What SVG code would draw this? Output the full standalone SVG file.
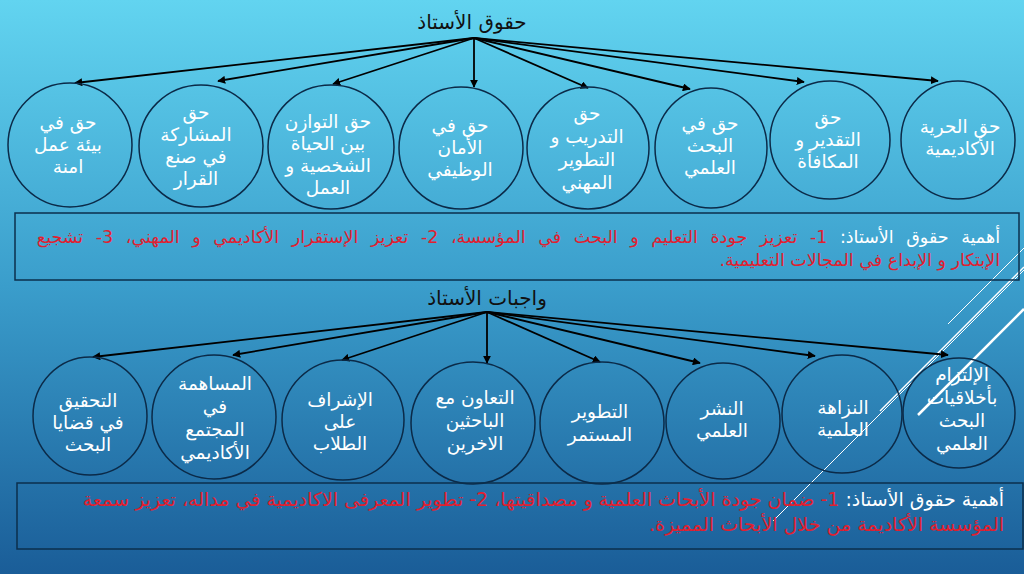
<svg xmlns="http://www.w3.org/2000/svg" width="1024" height="574" viewBox="0 0 1024 574">
<defs>
<linearGradient id="bg" x1="0" y1="0" x2="0" y2="1">
<stop offset="0" stop-color="#62d4f0"/>
<stop offset="0.5" stop-color="#3a9dcb"/>
<stop offset="1" stop-color="#1a5d98"/>
</linearGradient>
<marker id="ah" viewBox="0 0 10 10" refX="9" refY="5" markerWidth="8" markerHeight="8" markerUnits="userSpaceOnUse" orient="auto">
<path d="M0,0 L10,5 L0,10 z" fill="#000"/>
</marker>
<style>
.c{fill:none;stroke:#0b2a48;stroke-width:1.5}
.t{font-family:"DejaVu Sans","Noto Sans",sans-serif;font-size:18.5px;fill:#fff;text-anchor:middle}
.h{font-family:"DejaVu Sans","Noto Sans",sans-serif;font-size:20px;fill:#111;text-anchor:middle}
.b{font-family:"DejaVu Sans","Noto Sans",sans-serif;font-size:17.5px;fill:#e02030;direction:rtl;text-anchor:start}
.b2{font-size:19px}
.w{fill:#fff}
.box{fill:none;stroke:#0b2f4c;stroke-width:1.5}
.ar{stroke:#000;stroke-width:1.8;fill:none;marker-end:url(#ah)}
.dl{stroke:#fff;fill:none}
</style>
</defs>
<rect width="1024" height="574" fill="url(#bg)"/>
<g id="decor">
<line class="dl" x1="773" y1="521" x2="1024" y2="270" stroke-width="1"/>
<line class="dl" x1="880" y1="411" x2="1024" y2="267" stroke-width="1.5"/>
<line class="dl" x1="948" y1="324" x2="1024" y2="248" stroke-width="1"/>
<line class="dl" x1="918" y1="415" x2="1024" y2="309" stroke-width="2.5"/>
</g>
<text id="title1" class="h" x="472" y="29">حقوق الأستاذ</text>
<text id="title2" class="h" x="487" y="305">واجبات الأستاذ</text>
<g id="connectors">
<line class="ar" x1="474" y1="38" x2="75" y2="83"/>
<line class="ar" x1="474" y1="38" x2="218" y2="81"/>
<line class="ar" x1="474" y1="38" x2="333" y2="84"/>
<line class="ar" x1="474" y1="38" x2="474" y2="87"/>
<line class="ar" x1="474" y1="38" x2="588" y2="88"/>
<line class="ar" x1="474" y1="38" x2="690" y2="89"/>
<line class="ar" x1="474" y1="38" x2="804" y2="82"/>
<line class="ar" x1="474" y1="38" x2="938" y2="81"/>
<line class="ar" x1="487" y1="312" x2="93" y2="357"/>
<line class="ar" x1="487" y1="312" x2="233" y2="355"/>
<line class="ar" x1="487" y1="312" x2="342" y2="360"/>
<line class="ar" x1="487" y1="312" x2="487" y2="363"/>
<line class="ar" x1="487" y1="312" x2="600" y2="362"/>
<line class="ar" x1="487" y1="312" x2="700" y2="363"/>
<line class="ar" x1="487" y1="312" x2="815" y2="356"/>
<line class="ar" x1="487" y1="312" x2="948" y2="355"/>
</g>
<g id="r1"><ellipse class="c" cx="70" cy="145" rx="62" ry="62"/><text class="t"><tspan x="68" y="129">حق في</tspan><tspan x="68" y="151">بيئة عمل</tspan><tspan x="68" y="173">امنة</tspan></text></g>
<g id="r2"><ellipse class="c" cx="201" cy="146" rx="62" ry="61"/><text class="t"><tspan x="196" y="119">حق</tspan><tspan x="196" y="141">المشاركة</tspan><tspan x="196" y="163">في صنع</tspan><tspan x="196" y="185">القرار</tspan></text></g>
<g id="r3"><ellipse class="c" cx="331" cy="147" rx="63" ry="62"/><text class="t"><tspan x="328" y="128">حق التوازن</tspan><tspan x="328" y="150">بين الحياة</tspan><tspan x="328" y="172">الشخصية و</tspan><tspan x="328" y="194">العمل</tspan></text></g>
<g id="r4"><ellipse class="c" cx="461" cy="148" rx="62" ry="61"/><text class="t"><tspan x="460" y="132">حق في</tspan><tspan x="460" y="154">الأمان</tspan><tspan x="460" y="176">الوظيفي</tspan></text></g>
<g id="r5"><ellipse class="c" cx="588" cy="148" rx="61" ry="61"/><text class="t"><tspan x="587" y="120">حق</tspan><tspan x="587" y="143">التدريب و</tspan><tspan x="587" y="166">التطوير</tspan><tspan x="587" y="189">المهني</tspan></text></g>
<g id="r6"><ellipse class="c" cx="711" cy="148" rx="56" ry="60"/><text class="t"><tspan x="710" y="130">حق في</tspan><tspan x="710" y="152">البحث</tspan><tspan x="710" y="174">العلمي</tspan></text></g>
<g id="r7"><ellipse class="c" cx="830" cy="140" rx="60" ry="59"/><text class="t"><tspan x="828" y="124">حق</tspan><tspan x="828" y="146">التقدير و</tspan><tspan x="828" y="168">المكافأة</tspan></text></g>
<g id="r8"><ellipse class="c" cx="958" cy="140" rx="57" ry="59"/><text class="t"><tspan x="960" y="133">حق الحرية</tspan><tspan x="960" y="155">الأكاديمية</tspan></text></g>
<g id="box1"><rect class="box" x="15" y="213" width="1004" height="67"/>
<text class="b" x="1000" y="243" style="word-spacing:7px"><tspan class="w">أهمية حقوق الأستاذ: </tspan>1- تعزيز جودة التعليم و البحث في المؤسسة، 2- تعزيز الإستقرار الأكاديمي و المهني، 3- تشجيع</text>
<text class="b" x="1000" y="266">الإبتكار و الإبداع في المجالات التعليمية.</text></g>
<g id="d1"><ellipse class="c" cx="90" cy="416" rx="57" ry="59"/><text class="t"><tspan x="88" y="407">التحقيق</tspan><tspan x="88" y="429">في قضايا</tspan><tspan x="88" y="451">البحث</tspan></text></g>
<g id="d2"><ellipse class="c" cx="214" cy="417" rx="62" ry="62"/><text class="t"><tspan x="215" y="390">المساهمة</tspan><tspan x="215" y="413">في</tspan><tspan x="215" y="436">المجتمع</tspan><tspan x="215" y="459">الأكاديمي</tspan></text></g>
<g id="d3"><ellipse class="c" cx="343" cy="420" rx="61" ry="60"/><text class="t"><tspan x="340" y="406">الإشراف</tspan><tspan x="340" y="428">على</tspan><tspan x="340" y="450">الطلاب</tspan></text></g>
<g id="d4"><ellipse class="c" cx="473" cy="423" rx="62" ry="61"/><text class="t"><tspan x="475" y="404">التعاون مع</tspan><tspan x="475" y="427">الباحثين</tspan><tspan x="475" y="450">الاخرين</tspan></text></g>
<g id="d5"><ellipse class="c" cx="602" cy="423" rx="62" ry="61"/><text class="t"><tspan x="600" y="418">التطوير</tspan><tspan x="600" y="441">المستمر</tspan></text></g>
<g id="d6"><ellipse class="c" cx="723" cy="421" rx="57" ry="58"/><text class="t"><tspan x="722" y="415">النشر</tspan><tspan x="722" y="437">العلمي</tspan></text></g>
<g id="d7"><ellipse class="c" cx="842" cy="414" rx="60" ry="59"/><text class="t"><tspan x="843" y="414">النزاهة</tspan><tspan x="843" y="436">العلمية</tspan></text></g>
<g id="d8"><ellipse class="c" cx="959" cy="413" rx="56" ry="55"/><text class="t"><tspan x="962" y="381">الإلتزام</tspan><tspan x="962" y="404">بأخلاقيات</tspan><tspan x="962" y="427">البحث</tspan><tspan x="962" y="450">العلمي</tspan></text></g>
<g id="box2"><rect class="box" x="17" y="483" width="1006" height="66"/>
<text class="b b2" x="1004" y="506"><tspan class="w">أهمية حقوق الأستاذ: </tspan>1- ضمان جودة الأبحاث العلمية و مصداقيتها، 2- تطوير المعرفى الاكاديمية في مداله، تعزيز سمعة</text>
<text class="b b2" x="1004" y="531">المؤسسة الأكاديمة من خلال الأبحاث المميزة.</text></g>
</svg>
